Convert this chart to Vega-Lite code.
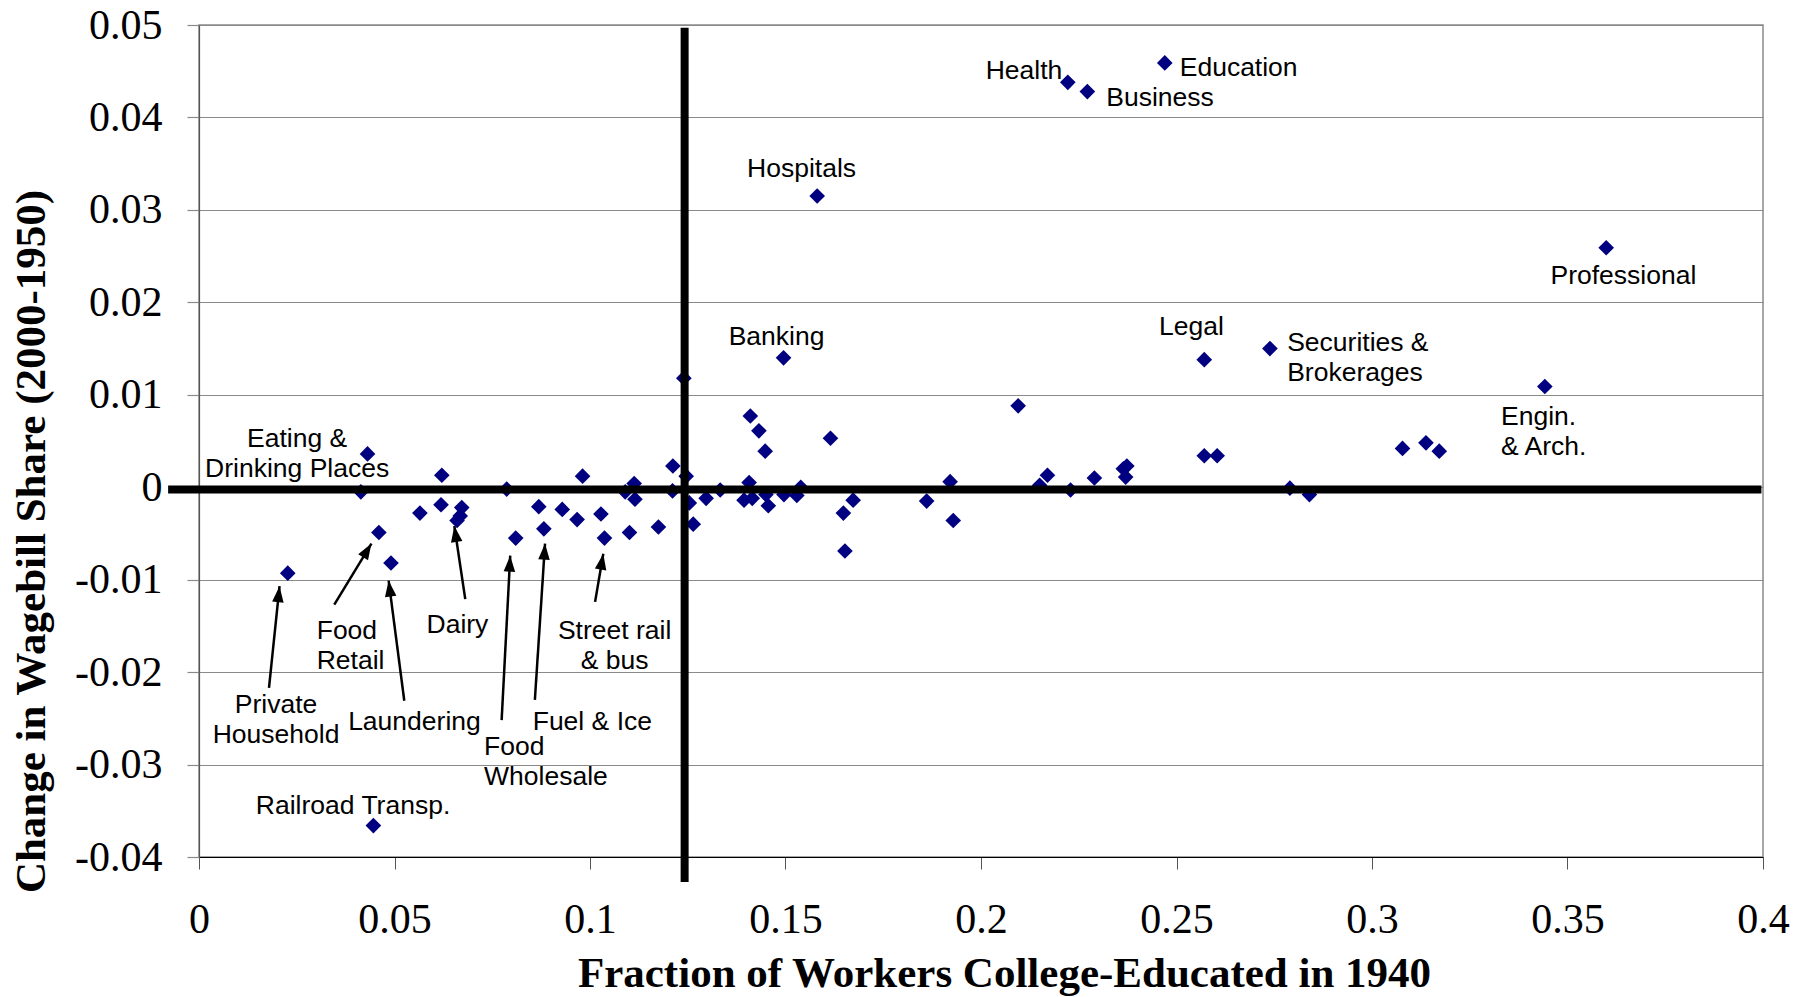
{
  "$schema": "https://vega.github.io/schema/vega-lite/v6.json",
  "width": 1564,
  "height": 832,
  "autosize": "none",
  "padding": {"left": 199, "top": 25, "right": 49, "bottom": 140},
  "background": "white",
  "config": {
    "view": {"stroke": "#8a8a8a", "strokeWidth": 1.5},
    "text": {"font": "Liberation Sans", "fontSize": 26.5, "color": "#000"}
  },
  "datasets": {
    "points": [
      {"industry": "Eating & Drinking Places", "x": 0.0431, "y": 0.0036},
      {"industry": null, "x": 0.0414, "y": -0.0005},
      {"industry": null, "x": 0.0621, "y": 0.0013},
      {"industry": null, "x": 0.0787, "y": -0.0002},
      {"industry": null, "x": 0.0981, "y": 0.0012},
      {"industry": null, "x": 0.1113, "y": 0.0004},
      {"industry": null, "x": 0.1090, "y": -0.0005},
      {"industry": null, "x": 0.1115, "y": -0.0013},
      {"industry": null, "x": 0.0565, "y": -0.0028},
      {"industry": null, "x": 0.0619, "y": -0.0019},
      {"industry": null, "x": 0.0672, "y": -0.0022},
      {"industry": "Dairy", "x": 0.0660, "y": -0.0036},
      {"industry": null, "x": 0.0668, "y": -0.0031},
      {"industry": "Food Retail", "x": 0.0460, "y": -0.0049},
      {"industry": "Laundering", "x": 0.0491, "y": -0.0082},
      {"industry": "Food Wholesale", "x": 0.0810, "y": -0.0055},
      {"industry": null, "x": 0.0869, "y": -0.0021},
      {"industry": "Fuel & Ice", "x": 0.0882, "y": -0.0045},
      {"industry": null, "x": 0.0929, "y": -0.0024},
      {"industry": null, "x": 0.0967, "y": -0.0035},
      {"industry": null, "x": 0.1028, "y": -0.0029},
      {"industry": "Street rail & bus", "x": 0.1037, "y": -0.0055},
      {"industry": null, "x": 0.1101, "y": -0.0049},
      {"industry": null, "x": 0.1175, "y": -0.0043},
      {"industry": null, "x": 0.1240, "y": 0.0118},
      {"industry": null, "x": 0.1212, "y": 0.0023},
      {"industry": null, "x": 0.1246, "y": 0.0012},
      {"industry": null, "x": 0.1211, "y": -0.0004},
      {"industry": null, "x": 0.1254, "y": -0.0017},
      {"industry": null, "x": 0.1264, "y": -0.0040},
      {"industry": null, "x": 0.1297, "y": -0.0012},
      {"industry": null, "x": 0.1333, "y": -0.0003},
      {"industry": null, "x": 0.1394, "y": -0.0014},
      {"industry": null, "x": 0.1407, "y": 0.0005},
      {"industry": null, "x": 0.1415, "y": -0.0012},
      {"industry": null, "x": 0.1410, "y": 0.0077},
      {"industry": null, "x": 0.1432, "y": 0.0061},
      {"industry": null, "x": 0.1448, "y": 0.0039},
      {"industry": null, "x": 0.1450, "y": -0.0008},
      {"industry": null, "x": 0.1456, "y": -0.0020},
      {"industry": null, "x": 0.1496, "y": -0.0008},
      {"industry": null, "x": 0.1529, "y": -0.0009},
      {"industry": null, "x": 0.1539, "y": 0.0000},
      {"industry": null, "x": 0.1615, "y": 0.0053},
      {"industry": null, "x": 0.1673, "y": -0.0014},
      {"industry": null, "x": 0.1648, "y": -0.0028},
      {"industry": null, "x": 0.1652, "y": -0.0069},
      {"industry": null, "x": 0.1861, "y": -0.0015},
      {"industry": null, "x": 0.1921, "y": 0.0006},
      {"industry": null, "x": 0.1929, "y": -0.0036},
      {"industry": null, "x": 0.2095, "y": 0.0088},
      {"industry": null, "x": 0.2150, "y": 0.0002},
      {"industry": null, "x": 0.2170, "y": 0.0013},
      {"industry": null, "x": 0.2229, "y": -0.0003},
      {"industry": null, "x": 0.2290, "y": 0.0010},
      {"industry": null, "x": 0.2364, "y": 0.0020},
      {"industry": null, "x": 0.2373, "y": 0.0023},
      {"industry": null, "x": 0.2370, "y": 0.0011},
      {"industry": null, "x": 0.2571, "y": 0.0034},
      {"industry": null, "x": 0.2604, "y": 0.0034},
      {"industry": null, "x": 0.2790, "y": -0.0001},
      {"industry": null, "x": 0.2840, "y": -0.0008},
      {"industry": "Engin. & Arch.", "x": 0.3442, "y": 0.0109},
      {"industry": null, "x": 0.3078, "y": 0.0042},
      {"industry": null, "x": 0.3138, "y": 0.0048},
      {"industry": null, "x": 0.3172, "y": 0.0039},
      {"industry": "Private Household", "x": 0.0227, "y": -0.0093},
      {"industry": "Railroad Transp.", "x": 0.0446, "y": -0.0366},
      {"industry": "Banking", "x": 0.1495, "y": 0.0140},
      {"industry": "Hospitals", "x": 0.1581, "y": 0.0315},
      {"industry": "Health", "x": 0.2222, "y": 0.0438},
      {"industry": "Business", "x": 0.2272, "y": 0.0428},
      {"industry": "Education", "x": 0.2470, "y": 0.0459},
      {"industry": "Legal", "x": 0.2571, "y": 0.0138},
      {"industry": "Securities & Brokerages", "x": 0.2739, "y": 0.0150},
      {"industry": "Professional", "x": 0.3599, "y": 0.0259}
    ],
    "labels_center": [
      {"label": "Eating &\nDrinking Places", "x": 0.0251, "y": 0.0052},
      {"label": "Private\nHousehold", "x": 0.0197, "y": -0.0236},
      {"label": "Laundering", "x": 0.0551, "y": -0.0254},
      {"label": "Dairy", "x": 0.0661, "y": -0.0149},
      {"label": "Fuel & Ice", "x": 0.1006, "y": -0.0254},
      {"label": "Street rail\n& bus", "x": 0.1063, "y": -0.0156},
      {"label": "Railroad Transp.", "x": 0.0394, "y": -0.0345},
      {"label": "Banking", "x": 0.1477, "y": 0.0163},
      {"label": "Hospitals", "x": 0.1541, "y": 0.0344},
      {"label": "Health", "x": 0.2110, "y": 0.0450},
      {"label": "Education", "x": 0.2659, "y": 0.0453},
      {"label": "Business", "x": 0.2458, "y": 0.0421},
      {"label": "Professional", "x": 0.3643, "y": 0.0228},
      {"label": "Legal", "x": 0.2538, "y": 0.0173}
    ],
    "labels_left": [
      {"label": "Food\nRetail", "x": 0.0301, "y": -0.0155},
      {"label": "Food\nWholesale", "x": 0.0729, "y": -0.0281},
      {"label": "Securities &\nBrokerages", "x": 0.2783, "y": 0.0156},
      {"label": "Engin.\n& Arch.", "x": 0.3330, "y": 0.0076}
    ],
    "arrows": [
      {"target": "Private Household", "x": 0.0179, "y": -0.0217, "x2": 0.0206, "y2": -0.0107},
      {"target": "Food Retail", "x": 0.0346, "y": -0.0127, "x2": 0.0441, "y2": -0.0061},
      {"target": "Laundering", "x": 0.0525, "y": -0.0231, "x2": 0.0485, "y2": -0.0101},
      {"target": "Dairy", "x": 0.0681, "y": -0.0121, "x2": 0.0653, "y2": -0.0042},
      {"target": "Food Wholesale", "x": 0.0774, "y": -0.0252, "x2": 0.0796, "y2": -0.0074},
      {"target": "Fuel & Ice", "x": 0.0859, "y": -0.0230, "x2": 0.0885, "y2": -0.0061},
      {"target": "Street rail & bus", "x": 0.1013, "y": -0.0124, "x2": 0.1034, "y2": -0.0072}
    ],
    "vline": [{"x": 0.1242, "y": -0.0427, "y2": 0.0497}],
    "hline": [{"y": -0.00025, "x": -0.0079, "x2": 0.3996}]
  },
  "layer": [
    {
      "data": {"name": "points"},
      "mark": {"type": "point", "shape": "diamond", "filled": true, "size": 245, "color": "#000080", "opacity": 1, "strokeWidth": 0},
      "encoding": {
        "x": {
          "field": "x", "type": "quantitative",
          "scale": {"domain": [0, 0.4], "nice": false, "zero": false},
          "axis": {
            "values": [0, 0.05, 0.1, 0.15, 0.2, 0.25, 0.3, 0.35, 0.4],
            "labelExpr": "replace(format(datum.value, '.2~f'), '−', '-')",
            "grid": false,
            "domainColor": "#000", "domainWidth": 1.2,
            "tickColor": "#555", "tickSize": 12, "tickWidth": 1,
            "labelFont": "Liberation Serif", "labelFontSize": 42, "labelColor": "#000",
            "labelBaseline": "alphabetic", "labelPadding": 63,
            "labelFlush": false, "labelOverlap": false, "labelBound": false,
            "title": "Fraction of Workers College-Educated in 1940",
            "titleFont": "Liberation Serif", "titleFontSize": 43, "titleFontWeight": "bold", "titleColor": "#000",
            "titleX": 805, "titleY": 129, "titleBaseline": "alphabetic", "titleAlign": "center"
          }
        },
        "y": {
          "field": "y", "type": "quantitative",
          "scale": {"domain": [-0.04, 0.05], "nice": false, "zero": false},
          "axis": {
            "values": [-0.04, -0.03, -0.02, -0.01, 0, 0.01, 0.02, 0.03, 0.04, 0.05],
            "labelExpr": "replace(format(datum.value, '.2~f'), '−', '-')",
            "grid": true, "gridColor": "#8a8a8a", "gridWidth": 1.2,
            "domainColor": "#555", "domainWidth": 1.2,
            "tickColor": "#8a8a8a", "tickSize": 12, "tickWidth": 1.2,
            "labelFont": "Liberation Serif", "labelFontSize": 42, "labelColor": "#000",
            "labelPadding": 25, "labelOverlap": false, "labelBound": false, "labelFlush": false,
            "title": "Change in Wagebill Share (2000-1950)",
            "titleFont": "Liberation Serif", "titleFontSize": 43, "titleFontWeight": "bold", "titleColor": "#000",
            "titleAngle": 270, "titleX": -155, "titleY": 516, "titleAlign": "center", "titleBaseline": "alphabetic"
          }
        }
      }
    },
    {
      "data": {"name": "vline"},
      "mark": {"type": "rule", "strokeWidth": 8, "color": "#000"},
      "encoding": {
        "x": {"field": "x", "type": "quantitative", "scale": {"domain": [0, 0.4], "nice": false, "zero": false}},
        "y": {"field": "y", "type": "quantitative", "scale": {"domain": [-0.04, 0.05], "nice": false, "zero": false}},
        "y2": {"field": "y2"}
      }
    },
    {
      "data": {"name": "hline"},
      "mark": {"type": "rule", "strokeWidth": 8, "color": "#000"},
      "encoding": {
        "x": {"field": "x", "type": "quantitative", "scale": {"domain": [0, 0.4], "nice": false, "zero": false}},
        "x2": {"field": "x2"},
        "y": {"field": "y", "type": "quantitative", "scale": {"domain": [-0.04, 0.05], "nice": false, "zero": false}}
      }
    },
    {
      "data": {"name": "arrows"},
      "mark": {"type": "rule", "strokeWidth": 2.5, "color": "#000"},
      "encoding": {
        "x": {"field": "x", "type": "quantitative", "scale": {"domain": [0, 0.4], "nice": false, "zero": false}},
        "y": {"field": "y", "type": "quantitative", "scale": {"domain": [-0.04, 0.05], "nice": false, "zero": false}},
        "x2": {"field": "x2"},
        "y2": {"field": "y2"}
      }
    },
    {
      "data": {"name": "arrows"},
      "transform": [{"calculate": "atan2((datum.x2 - datum.x) * 3910, (datum.y2 - datum.y) * 9244) * 180 / PI", "as": "angle"}],
      "mark": {"type": "point", "shape": "M0,0L-0.36,1L0.36,1Z", "filled": true, "color": "#000", "opacity": 1, "size": 1024, "strokeWidth": 0},
      "encoding": {
        "x": {"field": "x2", "type": "quantitative", "scale": {"domain": [0, 0.4], "nice": false, "zero": false}},
        "y": {"field": "y2", "type": "quantitative", "scale": {"domain": [-0.04, 0.05], "nice": false, "zero": false}},
        "angle": {"field": "angle", "type": "quantitative", "scale": null}
      }
    },
    {
      "data": {"name": "labels_center"},
      "mark": {"type": "text", "align": "center", "baseline": "middle", "lineBreak": "\n", "lineHeight": 30, "font": "Liberation Sans", "fontSize": 26.5, "color": "#000"},
      "encoding": {
        "x": {"field": "x", "type": "quantitative", "scale": {"domain": [0, 0.4], "nice": false, "zero": false}},
        "y": {"field": "y", "type": "quantitative", "scale": {"domain": [-0.04, 0.05], "nice": false, "zero": false}},
        "text": {"field": "label"}
      }
    },
    {
      "data": {"name": "labels_left"},
      "mark": {"type": "text", "align": "left", "baseline": "middle", "lineBreak": "\n", "lineHeight": 30, "font": "Liberation Sans", "fontSize": 26.5, "color": "#000"},
      "encoding": {
        "x": {"field": "x", "type": "quantitative", "scale": {"domain": [0, 0.4], "nice": false, "zero": false}},
        "y": {"field": "y", "type": "quantitative", "scale": {"domain": [-0.04, 0.05], "nice": false, "zero": false}},
        "text": {"field": "label"}
      }
    }
  ]
}
